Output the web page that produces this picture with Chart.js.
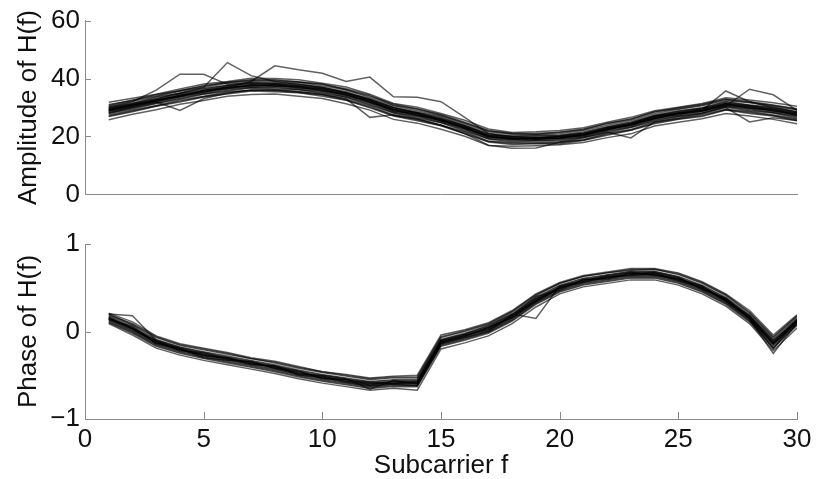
<!DOCTYPE html>
<html>
<head>
<meta charset="utf-8">
<script src="https://cdn.jsdelivr.net/npm/chart.js@4.4.1/dist/chart.umd.min.js"></script>
<style>
  body { margin: 0; background: #fff; width: 817px; height: 479px; overflow: hidden; position: relative; }
  canvas { position: absolute; left: 0; }
  #amp { top: 0; }
  #pha { top: 222px; }
</style>
</head>
<body>
<canvas id="amp" width="817" height="215"></canvas>
<canvas id="pha" width="817" height="257"></canvas>
<script>
var subcarriers = [1,2,3,4,5,6,7,8,9,10,11,12,13,14,15,16,17,18,19,20,21,22,23,24,25,26,27,28,29,30];
var xTicks = [0,5,10,15,20,25,30];
var ampTicks = [0,20,40,60];
var phaseTicks = [-1,0,1];

// amplitude of H(f), one row per captured packet
var ampTraces = [
  [31.8,33.2,34.6,36.4,38.1,39.0,40.1,40.0,39.6,38.4,37.1,34.6,31.4,30.1,27.9,25.6,22.6,21.4,21.6,22.1,23.0,24.9,26.6,28.9,30.1,31.4,33.4,32.6,31.6,30.4],
  [31.0,32.4,34.5,35.8,37.6,38.6,39.4,39.6,38.9,38.1,36.1,33.9,31.2,29.4,27.6,24.9,22.1,20.9,21.1,21.4,22.6,24.4,26.1,28.4,29.9,31.1,32.9,32.1,30.9,29.6],
  [30.7,32.6,34.1,35.9,37.3,38.7,39.6,39.3,38.8,37.9,36.5,34.2,30.8,29.6,27.3,24.7,21.9,21.1,20.8,21.5,22.3,24.6,25.9,28.6,29.6,30.9,32.8,31.8,30.7,29.4],
  [30.4,32.1,33.8,35.6,36.9,38.4,39.1,38.9,38.6,37.4,36.1,33.4,30.6,28.9,27.1,24.4,21.6,20.7,20.6,20.9,22.1,23.9,25.6,27.9,29.4,30.6,32.4,31.6,30.4,29.1],
  [30.1,31.4,33.6,34.9,36.6,37.7,38.7,38.5,38.1,36.9,35.5,32.9,30.1,28.4,26.7,23.9,21.1,20.2,20.4,20.4,21.6,23.4,25.1,27.4,28.9,29.9,32.1,30.9,30.1,28.4],
  [29.8,31.5,33.1,34.8,36.3,37.6,38.4,38.3,37.8,36.8,35.2,32.6,29.8,28.3,26.4,23.7,20.8,20.0,20.1,20.3,21.3,23.2,24.8,27.2,28.6,29.8,31.8,30.8,29.8,28.3],
  [29.6,31.1,32.7,34.6,35.9,37.4,38.0,38.2,37.4,36.6,34.8,32.6,29.4,28.1,26.0,23.6,20.4,19.9,19.7,20.1,20.9,23.1,24.4,27.1,28.2,29.6,31.4,30.6,29.4,28.1],
  [29.3,30.9,32.0,34.3,35.2,37.1,37.3,37.9,36.7,36.3,34.1,32.3,28.7,27.8,25.3,23.3,19.7,19.6,19.0,19.8,20.2,22.8,23.7,26.8,27.5,29.3,30.7,30.3,28.7,27.8],
  [29.2,30.8,32.5,34.2,35.7,37.0,37.8,37.8,37.2,36.2,34.6,32.2,29.2,27.7,25.8,23.2,20.2,19.4,19.5,19.7,20.7,22.7,24.2,26.7,28.0,29.2,31.2,30.2,29.2,27.7],
  [29.0,30.6,32.3,34.0,35.5,36.8,37.6,37.6,37.0,36.0,34.4,32.0,29.0,27.5,25.6,23.0,20.0,19.3,19.3,19.5,20.5,22.5,24.0,26.5,27.8,29.0,31.0,30.0,29.0,27.5],
  [28.8,30.4,32.1,33.8,35.3,36.6,37.4,37.4,36.8,35.8,34.2,31.8,28.8,27.3,25.4,22.8,19.8,19.1,19.1,19.3,20.3,22.3,23.8,26.3,27.6,28.8,30.8,29.8,28.8,27.3],
  [28.7,30.3,32.6,33.7,35.8,36.5,37.9,37.3,37.3,35.7,34.7,31.7,29.3,27.2,25.9,22.7,20.3,19.0,19.6,19.2,20.8,22.2,24.3,26.2,28.1,28.7,31.3,29.7,29.3,27.2],
  [28.4,30.2,31.7,33.6,34.9,36.4,37.0,37.2,36.4,35.6,33.8,31.6,28.4,27.1,25.0,22.6,19.4,18.9,18.7,19.1,19.9,22.1,23.4,26.1,27.2,28.6,30.4,29.6,28.4,27.1],
  [28.2,29.8,31.5,33.2,34.7,36.0,36.9,36.8,36.2,35.2,33.6,31.2,28.2,26.8,24.8,22.3,19.2,18.6,18.6,18.8,19.8,21.8,23.2,25.7,27.0,28.2,30.3,29.2,28.2,26.8],
  [27.9,29.5,31.4,32.9,34.6,35.7,36.7,36.4,36.1,34.9,33.5,30.9,28.1,26.4,24.7,21.9,19.1,18.2,18.4,18.4,19.6,21.4,23.1,25.4,26.9,27.9,30.1,28.9,28.1,26.4],
  [27.4,29.1,30.7,32.6,33.9,35.4,35.9,36.1,35.4,34.6,32.9,30.6,27.4,26.1,23.9,21.6,18.4,17.9,17.9,18.1,18.9,21.1,22.4,25.1,26.2,27.6,29.4,28.6,27.4,26.1],
  [27.1,28.8,30.5,32.2,33.7,35.0,36.0,35.8,35.2,34.3,32.6,30.2,27.2,25.8,23.8,21.2,18.3,17.6,17.6,17.8,18.8,20.8,22.2,24.7,26.0,27.2,29.2,28.3,27.2,25.8],
  [26.9,28.5,30.4,31.9,33.6,34.7,35.7,35.4,35.1,33.9,32.5,29.9,27.1,25.4,23.7,20.9,18.1,17.2,17.6,17.4,18.6,20.4,22.1,24.4,25.9,26.9,29.1,27.9,27.1,25.4],
  [25.8,27.7,29.2,31.1,32.4,33.9,34.5,34.7,33.9,33.1,31.3,29.1,25.9,24.6,22.5,20.1,16.9,16.6,16.8,17.1,17.9,19.6,20.9,23.6,24.9,26.1,27.9,27.1,25.9,24.4],
  [30.0,32.0,36.0,41.5,41.5,38.0,38.5,38.0,37.5,36.5,35.0,32.5,29.5,28.0,26.0,23.5,20.5,20.0,19.5,20.0,21.0,23.0,24.5,27.0,28.5,29.5,31.5,30.5,29.5,28.0],
  [29.5,31.0,33.0,35.0,37.0,45.5,41.0,39.0,38.0,37.0,35.0,33.0,30.0,28.0,25.5,23.0,20.0,19.0,19.0,19.5,20.5,22.5,24.0,26.0,28.0,29.0,35.7,32.0,30.0,28.5],
  [29.0,31.0,32.5,34.0,36.0,37.0,39.0,44.4,43.0,41.8,39.0,40.5,33.7,33.5,32.0,26.6,21.0,19.5,19.5,20.0,21.0,22.5,24.5,27.0,28.0,29.0,30.5,36.3,34.4,29.0],
  [28.0,30.0,32.0,29.0,33.0,35.0,36.0,36.0,35.5,34.5,33.0,26.6,27.5,26.0,24.0,21.0,17.0,15.9,16.0,18.0,19.5,21.5,19.5,25.0,26.5,28.0,30.0,25.0,26.5,25.5]
];

// phase of H(f) after sanitisation
var phaseTraces = [
  [0.21,0.11,-0.05,-0.14,-0.19,-0.24,-0.30,-0.34,-0.40,-0.46,-0.49,-0.53,-0.51,-0.50,-0.04,0.02,0.10,0.24,0.43,0.56,0.64,0.68,0.72,0.72,0.67,0.57,0.43,0.24,-0.04,0.19],
  [0.20,0.08,-0.07,-0.16,-0.21,-0.26,-0.31,-0.36,-0.42,-0.47,-0.51,-0.55,-0.53,-0.53,-0.07,0.00,0.08,0.22,0.41,0.55,0.63,0.67,0.70,0.71,0.65,0.55,0.41,0.21,-0.07,0.17],
  [0.19,0.09,-0.06,-0.15,-0.20,-0.25,-0.31,-0.35,-0.41,-0.46,-0.50,-0.54,-0.52,-0.52,-0.06,0.01,0.09,0.23,0.42,0.55,0.63,0.67,0.71,0.71,0.66,0.56,0.42,0.22,-0.06,0.18],
  [0.18,0.07,-0.09,-0.18,-0.23,-0.28,-0.33,-0.38,-0.44,-0.49,-0.53,-0.57,-0.55,-0.55,-0.09,-0.02,0.06,0.20,0.39,0.53,0.61,0.65,0.69,0.69,0.63,0.53,0.39,0.19,-0.09,0.15],
  [0.17,0.05,-0.10,-0.18,-0.24,-0.29,-0.34,-0.39,-0.45,-0.50,-0.54,-0.58,-0.56,-0.56,-0.10,-0.03,0.05,0.19,0.38,0.52,0.60,0.64,0.68,0.68,0.62,0.52,0.38,0.18,-0.11,0.14],
  [0.16,0.04,-0.11,-0.19,-0.25,-0.30,-0.35,-0.40,-0.46,-0.51,-0.55,-0.59,-0.57,-0.57,-0.11,-0.04,0.04,0.18,0.37,0.51,0.59,0.63,0.67,0.67,0.61,0.51,0.37,0.17,-0.12,0.13],
  [0.15,0.03,-0.12,-0.20,-0.26,-0.31,-0.36,-0.41,-0.47,-0.52,-0.56,-0.60,-0.58,-0.58,-0.12,-0.05,0.03,0.17,0.36,0.50,0.58,0.62,0.66,0.66,0.60,0.50,0.36,0.16,-0.13,0.12],
  [0.15,0.04,-0.11,-0.21,-0.26,-0.32,-0.35,-0.42,-0.46,-0.53,-0.55,-0.61,-0.57,-0.59,-0.11,-0.05,0.04,0.17,0.37,0.49,0.59,0.61,0.67,0.65,0.61,0.49,0.37,0.15,-0.13,0.13],
  [0.14,0.03,-0.13,-0.19,-0.27,-0.30,-0.37,-0.40,-0.48,-0.51,-0.57,-0.59,-0.59,-0.57,-0.13,-0.04,0.02,0.18,0.35,0.51,0.57,0.63,0.65,0.67,0.59,0.51,0.35,0.17,-0.14,0.11],
  [0.14,0.02,-0.13,-0.21,-0.27,-0.32,-0.37,-0.42,-0.48,-0.53,-0.57,-0.61,-0.59,-0.59,-0.13,-0.06,0.02,0.16,0.35,0.49,0.57,0.61,0.65,0.65,0.59,0.49,0.35,0.15,-0.14,0.11],
  [0.13,0.01,-0.14,-0.22,-0.28,-0.33,-0.38,-0.43,-0.49,-0.54,-0.58,-0.62,-0.60,-0.60,-0.14,-0.07,0.01,0.15,0.34,0.48,0.56,0.60,0.64,0.64,0.58,0.48,0.34,0.14,-0.15,0.10],
  [0.12,0.00,-0.15,-0.23,-0.29,-0.34,-0.39,-0.44,-0.50,-0.55,-0.59,-0.63,-0.61,-0.61,-0.15,-0.08,0.00,0.14,0.33,0.47,0.55,0.59,0.63,0.63,0.57,0.47,0.33,0.13,-0.16,0.09],
  [0.11,-0.01,-0.16,-0.24,-0.30,-0.35,-0.40,-0.45,-0.51,-0.56,-0.60,-0.64,-0.62,-0.62,-0.16,-0.09,-0.01,0.13,0.32,0.46,0.54,0.58,0.62,0.62,0.56,0.46,0.32,0.12,-0.18,0.08],
  [0.10,-0.02,-0.17,-0.25,-0.31,-0.36,-0.41,-0.46,-0.52,-0.57,-0.61,-0.65,-0.63,-0.63,-0.17,-0.10,-0.02,0.12,0.31,0.45,0.53,0.57,0.61,0.61,0.55,0.45,0.31,0.11,-0.19,0.07],
  [0.09,-0.04,-0.19,-0.27,-0.33,-0.38,-0.43,-0.48,-0.54,-0.59,-0.63,-0.67,-0.65,-0.67,-0.20,-0.13,-0.05,0.09,0.28,0.43,0.51,0.55,0.59,0.59,0.53,0.43,0.29,0.09,-0.22,0.04],
  [0.20,0.18,-0.10,-0.20,-0.28,-0.30,-0.36,-0.40,-0.45,-0.54,-0.55,-0.58,-0.60,-0.58,-0.10,-0.03,0.07,0.20,0.15,0.52,0.58,0.64,0.68,0.64,0.60,0.52,0.34,0.15,-0.20,0.14],
  [0.14,0.06,-0.14,-0.20,-0.30,-0.33,-0.34,-0.42,-0.49,-0.50,-0.54,-0.66,-0.56,-0.60,-0.14,-0.07,0.00,0.19,0.40,0.47,0.60,0.60,0.66,0.68,0.62,0.48,0.38,0.14,-0.25,0.10],
  [0.16,0.03,-0.12,-0.22,-0.24,-0.31,-0.38,-0.39,-0.50,-0.52,-0.58,-0.62,-0.60,-0.62,-0.12,-0.06,0.05,0.16,0.34,0.50,0.56,0.62,0.64,0.66,0.58,0.50,0.36,0.18,-0.10,0.12]
];

var FONT = "'Liberation Sans', Arial, Helvetica, sans-serif";
var AXIS = '#8a8a8a';
var INK = '#111';

function toDatasets(traces) {
  return traces.map(function(t) {
    return {
      data: subcarriers.map(function(f, i) { return { x: f, y: t[i] }; }),
      borderColor: 'rgba(0,0,0,0.62)',
      borderWidth: 1.5,
      pointRadius: 0,
      tension: 0,
      fill: false
    };
  });
}

// MATLAB style ticks pointing into the plot
var innerTicks = {
  id: 'innerTicks',
  afterDraw: function(chart, args, opts) {
    var c = chart.ctx, a = chart.chartArea;
    var xs = chart.scales.x, ys = chart.scales.y;
    c.save();
    c.strokeStyle = AXIS;
    c.lineWidth = 1;
    opts.yValues.forEach(function(v) {
      var y = Math.round(ys.getPixelForValue(v)) + 0.5;
      c.beginPath(); c.moveTo(a.left, y); c.lineTo(a.left + 6, y); c.stroke();
    });
    (opts.xValues || []).forEach(function(v) {
      var x = Math.round(xs.getPixelForValue(v)) + 0.5;
      c.beginPath(); c.moveTo(x, a.bottom); c.lineTo(x, a.bottom - 7); c.stroke();
    });
    c.restore();
  }
};

function yScale(lo, hi, vals, title) {
  return {
    min: lo, max: hi,
    afterBuildTicks: function(s) {
      s.ticks = vals.map(function(v) { return { value: v }; });
    },
    ticks: {
      color: INK, padding: 5,
      font: { family: FONT, size: 26 },
      callback: function(v) { return String(v).replace('-', '\u2212'); }
    },
    grid: { display: false, drawTicks: false },
    border: { color: AXIS, width: 1 },
    title: { display: true, text: title, color: INK, font: { family: FONT, size: 26 }, padding: { top: 13, bottom: 0 } },
    afterFit: function(s) { s.width = 85; }
  };
}

function xScale(showLabels, height) {
  return {
    type: 'linear', min: 0, max: 30,
    afterBuildTicks: function(s) { s.ticks = xTicks.map(function(v) { return { value: v }; }); },
    ticks: { display: showLabels, color: INK, padding: 5, maxRotation: 0, font: { family: FONT, size: 26 } },
    grid: { display: false, drawTicks: false },
    border: { color: AXIS, width: 1 },
    title: { display: showLabels, text: 'Subcarrier f', color: INK, font: { family: FONT, size: 26, lineHeight: 1 }, padding: 0 },
    afterFit: function(s) { s.height = height; }
  };
}

function common(padTop) {
  return {
    responsive: false,
    animation: false,
    events: [],
    layout: { padding: { top: padTop, right: 20, left: 0, bottom: 0 } },
    plugins: { legend: { display: false }, tooltip: { enabled: false } }
  };
}

var ampOpts = common(17);
ampOpts.scales = { x: xScale(false, 13), y: yScale(0, 60, ampTicks, 'Amplitude of H(f)') };
ampOpts.plugins.innerTicks = { yValues: ampTicks };

new Chart(document.getElementById('amp').getContext('2d'), {
  type: 'line',
  plugins: [innerTicks],
  data: { datasets: toDatasets(ampTraces) },
  options: ampOpts
});

var phaOpts = common(22);
phaOpts.scales = { x: xScale(true, 60), y: yScale(-1, 1, phaseTicks, 'Phase of H(f)') };
phaOpts.plugins.innerTicks = { yValues: phaseTicks, xValues: xTicks.slice(1) };

new Chart(document.getElementById('pha').getContext('2d'), {
  type: 'line',
  plugins: [innerTicks],
  data: { datasets: toDatasets(phaseTraces) },
  options: phaOpts
});
</script>
</body>
</html>
